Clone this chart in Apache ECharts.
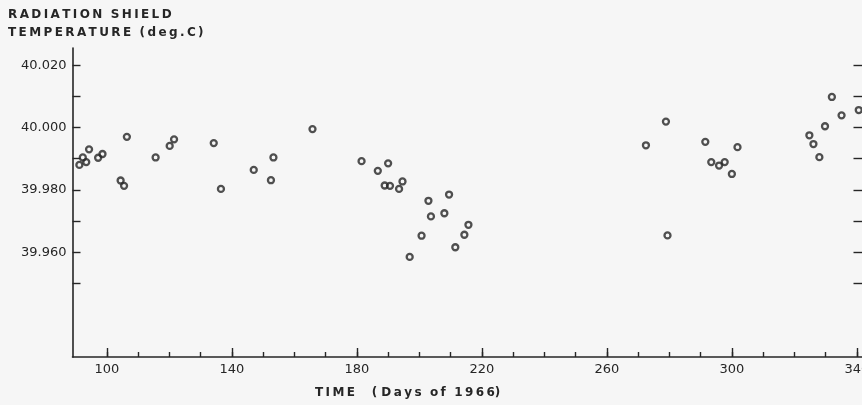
<!DOCTYPE html>
<html>
<head>
<meta charset="utf-8">
<script src="https://cdn.jsdelivr.net/npm/echarts@6/dist/echarts.min.js"></script>
<style>
  html, body { margin: 0; padding: 0; background: #f6f6f6; }
  #chart { width: 862px; height: 405px; }
</style>
</head>
<body>
<div id="chart"></div>
<script>
// days of 1966
var days = [
    91.2, 92.3, 93.4, 94.3, 97.2, 98.6, 104.4, 105.5, 106.4, 115.6,
    120.1, 121.5, 134.2, 136.5, 147.0, 152.5, 153.3, 165.8,
    181.5, 186.7, 190.0, 188.9, 190.6, 193.5, 194.6, 202.9, 209.5, 203.7,
    208.0, 215.7, 214.4, 200.7, 211.5, 196.9,
    272.5, 278.9, 279.4, 291.5, 293.4, 295.9, 297.7, 300.0, 301.8,
    324.8, 326.1, 328.0, 329.8, 332.0, 335.1, 340.6
];
// radiation shield temperature (deg.C)
var temps = [
    39.9880, 39.9904, 39.9889, 39.9930, 39.9903, 39.9915, 39.9830, 39.9813, 39.9970, 39.9904,
    39.9941, 39.9962, 39.9950, 39.9803, 39.9864, 39.9831, 39.9904, 39.9995,
    39.9892, 39.9861, 39.9885, 39.9814, 39.9813, 39.9803, 39.9827, 39.9765, 39.9785, 39.9715,
    39.9725, 39.9688, 39.9656, 39.9653, 39.9616, 39.9585,
    39.9943, 40.0019, 39.9654, 39.9954, 39.9889, 39.9878, 39.9889, 39.9851, 39.9937,
    39.9975, 39.9947, 39.9905, 40.0004, 40.0098, 40.0039, 40.0056
];
var xMinorTicks = [100, 110, 120, 130, 140, 150, 160, 170, 180, 190, 200, 210, 220,
    230, 240, 250, 260, 270, 280, 290, 300, 310, 320, 330, 340];
var xMajorTicks = [100, 140, 180, 220, 260, 300, 340];
var yTicks = [39.95, 39.96, 39.97, 39.98, 39.99, 40.00, 40.01, 40.02];
var yLabels = [39.96, 39.98, 40.00, 40.02];

var ink = '#262626';
var font = 'DejaVu Sans';

// spread letters a little, like the stencil lettering
function spaced(s) {
    return s.split('').join('\u2009');
}

var points = [];
for (var i = 0; i < days.length; i++) {
    points.push([days[i], temps[i]]);
}

var chart = echarts.init(document.getElementById('chart'));
var baseX = {
    type: 'value',
    min: 89,
    max: 341.8,
    position: 'bottom',
    splitLine: {show: false}
};
var option = {
    backgroundColor: '#f6f6f6',
    animation: false,
    grid: {left: 72.5, top: 48, width: 790, height: 309, outerBoundsMode: 'none', containLabel: false},
    graphic: [
        {type: 'text', left: 8, top: 9,
            style: {text: spaced('RADIATION') + '  ' + spaced('SHIELD'), fill: ink, font: 'bold 12px "' + font + '"'}},
        {type: 'text', left: 8, top: 27,
            style: {text: spaced('TEMPERATURE') + '  ' + spaced('(deg.C)'), fill: ink, font: 'bold 12px "' + font + '"'}},
        {type: 'text', left: 315, top: 387,
            style: {text: spaced('TIME') + '    ( ' + spaced('Days') + '  ' + spaced('of') + '  ' + spaced('1966') + ')', fill: ink, font: 'bold 12px "' + font + '"'}}
    ],
    xAxis: [
        echarts.util.merge({
            axisLine: {show: true, lineStyle: {color: ink, width: 1.6}},
            axisTick: {show: true, inside: true, length: 5, customValues: xMinorTicks,
                lineStyle: {color: ink, width: 1.4}},
            axisLabel: {show: false}
        }, baseX, true),
        echarts.util.merge({
            axisLine: {show: false},
            axisTick: {show: true, inside: true, length: 9, customValues: xMajorTicks,
                lineStyle: {color: ink, width: 1.4}},
            axisLabel: {show: true, customValues: xMajorTicks, margin: 6,
                color: ink, fontFamily: font, fontSize: 13}
        }, baseX, true)
    ],
    yAxis: [
        {
            type: 'value',
            min: 39.9264,
            max: 40.0255,
            position: 'left',
            splitLine: {show: false},
            axisLine: {show: true, lineStyle: {color: ink, width: 1.6}},
            axisTick: {show: true, inside: true, length: 8, customValues: yTicks,
                lineStyle: {color: ink, width: 1.4}},
            axisLabel: {
                show: true, customValues: yLabels, margin: 6,
                color: ink, fontFamily: font, fontSize: 13,
                formatter: function (v) { return v.toFixed(3); }
            }
        },
        {
            type: 'value',
            min: 39.9264,
            max: 40.0255,
            position: 'right',
            splitLine: {show: false},
            axisLine: {show: false},
            axisTick: {show: true, inside: true, length: 9, customValues: yTicks,
                lineStyle: {color: ink, width: 1.4}},
            axisLabel: {show: false}
        }
    ],
    series: [
        {
            type: 'scatter',
            xAxisIndex: 0,
            yAxisIndex: 0,
            data: points,
            symbol: 'circle',
            symbolSize: 6,
            clip: false,
            itemStyle: {color: 'rgba(0,0,0,0)', borderColor: ink, borderWidth: 2.3}
        }
    ]
};
chart.setOption(option);
</script>
</body>
</html>
